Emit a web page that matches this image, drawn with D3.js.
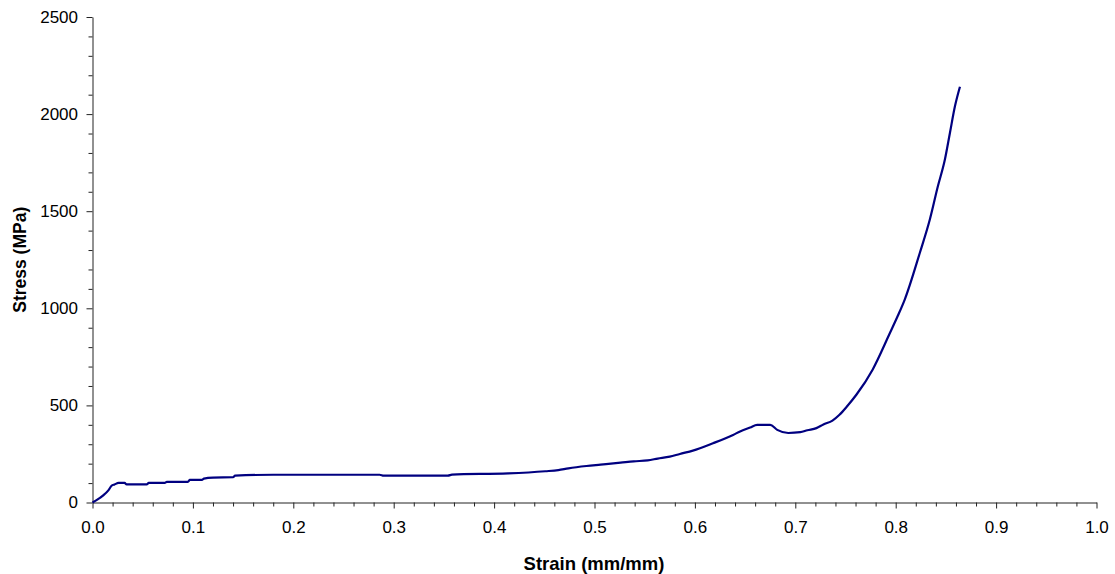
<!DOCTYPE html>
<html>
<head>
<meta charset="utf-8">
<script src="https://cdn.jsdelivr.net/npm/d3@7"></script>
<style>
  html, body { margin: 0; padding: 0; background: #fff; }
  svg { display: block; }
  .tick text { font-family: "Liberation Sans", Arial, sans-serif; }
</style>
</head>
<body>
<svg id="chart" width="1115" height="574"></svg>
<script>
// Compression test: engineering strain vs. stress
const strain = [
  0.000, 0.004, 0.011, 0.016, 0.019, 0.022, 0.026, 0.032, 0.034, 0.054,
  0.056, 0.072, 0.074, 0.095, 0.097, 0.109, 0.111, 0.120, 0.140, 0.142,
  0.180, 0.286, 0.290, 0.354, 0.358, 0.414, 0.451, 0.464, 0.474, 0.492,
  0.506, 0.526, 0.539, 0.553, 0.563, 0.575, 0.585, 0.598, 0.618, 0.638,
  0.645, 0.655, 0.662, 0.675, 0.682, 0.693, 0.705, 0.712, 0.721, 0.728,
  0.737, 0.744, 0.751, 0.761, 0.777, 0.794, 0.802, 0.809, 0.824, 0.834,
  0.842, 0.849, 0.854, 0.859, 0.864
];
const stress = [
  0, 12, 38, 64, 86, 93, 101, 101, 93, 93,
  101, 101, 106, 106, 116, 116, 123, 128, 130, 138,
  143, 143, 138, 138, 144, 150, 161, 167, 176, 188,
  195, 205, 212, 217, 226, 236, 250, 267, 305, 348,
  366, 386, 400, 400, 374, 358, 362, 372, 383, 402,
  422, 452, 492, 556, 684, 870, 960, 1045, 1285, 1457,
  1628, 1766, 1903, 2040, 2141
];

const xTicks = [0, 0.1, 0.2, 0.3, 0.4, 0.5, 0.6, 0.7, 0.8, 0.9, 1.0];
const yTicks = [0, 500, 1000, 1500, 2000, 2500];
const xLabel = "Strain (mm/mm)";
const yLabel = "Stress (MPa)";

const svg = d3.select("#chart");
const margin = { left: 92.5, right: 18.5, top: 17, bottom: 71.5 };
const W = 1115, H = 574;

const x = d3.scaleLinear().domain([0, 1]).range([margin.left, W - margin.right]);
const y = d3.scaleLinear().domain([0, 2500]).range([H - margin.bottom, margin.top]);

const axisColor = "#222";

// minor ticks
const xMinor = d3.range(0, 1.0001, 0.02).filter(v => Math.abs(v * 10 - Math.round(v * 10)) > 1e-6);
const yMinor = d3.range(0, 2501, 100).filter(v => v % 500 !== 0);

svg.append("g")
  .attr("transform", `translate(0,${y(0)})`)
  .call(d3.axisBottom(x).tickValues(xMinor).tickSize(4).tickFormat(""))
  .call(g => g.select(".domain").remove())
  .call(g => g.selectAll("line").attr("stroke", axisColor));

svg.append("g")
  .attr("transform", `translate(${x(0)},0)`)
  .call(d3.axisLeft(y).tickValues(yMinor).tickSize(4).tickFormat(""))
  .call(g => g.select(".domain").remove())
  .call(g => g.selectAll("line").attr("stroke", axisColor));

// major axes
svg.append("g")
  .attr("transform", `translate(0,${y(0)})`)
  .call(d3.axisBottom(x).tickValues(xTicks).tickSize(6).tickSizeOuter(0).tickPadding(12)
    .tickFormat(d3.format(".1f")))
  .call(g => g.select(".domain").attr("stroke", axisColor))
  .call(g => g.selectAll("line").attr("stroke", axisColor))
  .call(g => g.selectAll("text").attr("font-size", 17).attr("fill", "#000"));

svg.append("g")
  .attr("transform", `translate(${x(0)},0)`)
  .call(d3.axisLeft(y).tickValues(yTicks).tickSize(6).tickSizeOuter(0).tickPadding(8.5)
    .tickFormat(d3.format("d")))
  .call(g => g.select(".domain").attr("stroke", axisColor))
  .call(g => g.selectAll("line").attr("stroke", axisColor))
  .call(g => g.selectAll("text").attr("font-size", 17).attr("fill", "#000"));

// axis titles
svg.append("text")
  .attr("x", 594)
  .attr("y", 569.5)
  .attr("text-anchor", "middle")
  .attr("font-family", "Liberation Sans, Arial, sans-serif")
  .attr("font-weight", "bold")
  .attr("font-size", 18.5)
  .text(xLabel);

svg.append("text")
  .attr("transform", `translate(25.5,${(y(0) + y(2500)) / 2}) rotate(-90)`)
  .attr("text-anchor", "middle")
  .attr("font-family", "Liberation Sans, Arial, sans-serif")
  .attr("font-weight", "bold")
  .attr("font-size", 17.5)
  .text(yLabel);

// stress-strain curve
const pts = strain.map((s, i) => [s, stress[i]]);
svg.append("path")
  .datum(pts)
  .attr("fill", "none")
  .attr("stroke", "#000080")
  .attr("stroke-width", 2.2)
  .attr("stroke-linejoin", "round")
  .attr("d", d3.line().curve(d3.curveMonotoneX).x(d => x(d[0])).y(d => y(d[1])));
</script>
</body>
</html>
